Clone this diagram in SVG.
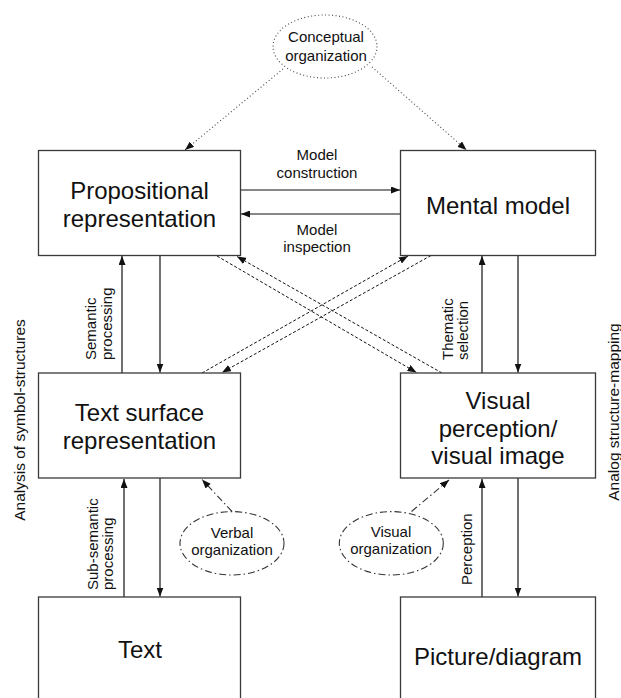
<svg xmlns="http://www.w3.org/2000/svg" width="621" height="698" viewBox="0 0 621 698">
<style>
.box{fill:#fff;stroke:#3a3a3a;stroke-width:1.3}
.big{font-family:"Liberation Sans",Arial,sans-serif;font-size:24px;fill:#111;text-anchor:middle}
.sm{font-family:"Liberation Sans",Arial,sans-serif;font-size:15px;fill:#111;text-anchor:middle}
.rot{font-family:"Liberation Sans",Arial,sans-serif;font-size:15px;fill:#111;text-anchor:start}
.side{font-family:"Liberation Sans",Arial,sans-serif;font-size:15.5px;fill:#111;text-anchor:middle}
.ln{stroke:#111;stroke-width:1.2;fill:none}
.dash{stroke-width:1;stroke-dasharray:3,2}
.dot{stroke:#444;stroke-width:1.1;stroke-dasharray:1,2.5}
.dd{stroke:#333;stroke-width:1.1;stroke-dasharray:7,3,1.5,3}
.ell{fill:#fff}
</style>
<defs>
<marker id="ah" markerWidth="9" markerHeight="7" refX="9" refY="3.5" orient="auto" markerUnits="userSpaceOnUse"><path d="M0,0 L9,3.5 L0,7 z" fill="#111"/></marker>
</defs>

<g id="connectors">
<path class="ln" d="M240.5,190 H400" marker-end="url(#ah)"/>
<path class="ln" d="M400.5,214 H241" marker-end="url(#ah)"/>
<path class="ln" d="M122,373 V256" marker-end="url(#ah)"/>
<path class="ln" d="M160,255.5 V372.5" marker-end="url(#ah)"/>
<path class="ln" d="M124,597 V479" marker-end="url(#ah)"/>
<path class="ln" d="M160,478 V596.5" marker-end="url(#ah)"/>
<path class="ln" d="M482,373 V256" marker-end="url(#ah)"/>
<path class="ln" d="M518,255.5 V372.5" marker-end="url(#ah)"/>
<path class="ln" d="M482,597 V479" marker-end="url(#ah)"/>
<path class="ln" d="M518,478 V596.5" marker-end="url(#ah)"/>
<path class="ln dash" d="M217,256 L416.5,372.5" marker-end="url(#ah)"/>
<path class="ln dash" d="M442,373 L237,256.5" marker-end="url(#ah)"/>
<path class="ln dash" d="M202,373 L408,256" marker-end="url(#ah)"/>
<path class="ln dash" d="M431,255.5 L222,372.5" marker-end="url(#ah)"/>
<path class="ln dot" d="M283,69 L185,150" marker-end="url(#ah)"/>
<path class="ln dot" d="M372,67 L466.5,150" marker-end="url(#ah)"/>
<path class="ln dd" d="M232,511.5 L202,479.5" marker-end="url(#ah)"/>
<path class="ln dd" d="M411.5,511.5 L449,480" marker-end="url(#ah)"/>
</g>

<g id="conceptual">
<ellipse class="ell dot" cx="325" cy="46.5" rx="52" ry="31.5"/>
<text class="sm" x="326" y="42">Conceptual</text>
<text class="sm" x="326" y="61">organization</text>
</g>

<g id="propositional">
<rect class="box" x="38.5" y="150.5" width="202" height="105"/>
<text class="big" x="139.5" y="199">Propositional</text>
<text class="big" x="139.5" y="227">representation</text>
</g>

<g id="mental">
<rect class="box" x="400.5" y="150.5" width="195" height="105"/>
<text class="big" x="498" y="214">Mental model</text>
</g>

<g id="textsurface">
<rect class="box" x="38.5" y="373" width="202" height="105"/>
<text class="big" x="139.5" y="421">Text surface</text>
<text class="big" x="139.5" y="449">representation</text>
</g>

<g id="visual">
<rect class="box" x="400.5" y="373" width="195" height="105"/>
<text class="big" x="498" y="409">Visual</text>
<text class="big" x="498" y="437">perception/</text>
<text class="big" x="498" y="464">visual image</text>
</g>

<g id="text">
<rect class="box" x="38.5" y="597" width="202" height="110"/>
<text class="big" x="140" y="658">Text</text>
</g>

<g id="picture">
<rect class="box" x="400.5" y="597" width="195" height="110"/>
<text class="big" x="498" y="665">Picture/diagram</text>
</g>

<g id="verbal-org">
<ellipse class="ell dd" cx="232" cy="543.3" rx="52" ry="31.7"/>
<text class="sm" x="232" y="538">Verbal</text>
<text class="sm" x="232" y="555">organization</text>
</g>

<g id="visual-org">
<ellipse class="ell dd" cx="391.3" cy="543.3" rx="52" ry="31.7"/>
<text class="sm" x="391" y="537">Visual</text>
<text class="sm" x="391" y="554">organization</text>
</g>

<g id="labels">
<text class="sm" x="317" y="160">Model</text>
<text class="sm" x="317" y="177.5">construction</text>
<text class="sm" x="317" y="235">Model</text>
<text class="sm" x="317" y="252">inspection</text>
<text class="rot" transform="translate(96,360) rotate(-90)">Semantic</text>
<text class="rot" transform="translate(112,360) rotate(-90)">processing</text>
<text class="rot" transform="translate(97.5,590) rotate(-90)">Sub-semantic</text>
<text class="rot" transform="translate(113,590) rotate(-90)">processing</text>
<text class="rot" transform="translate(453,360) rotate(-90)">Thematic</text>
<text class="rot" transform="translate(468,360) rotate(-90)">selection</text>
<text class="rot" transform="translate(472,585) rotate(-90)">Perception</text>
<text class="side" transform="translate(25,420) rotate(-90)">Analysis of symbol-structures</text>
<text class="side" transform="translate(619,412) rotate(-90)">Analog structure-mapping</text>
</g>
</svg>
